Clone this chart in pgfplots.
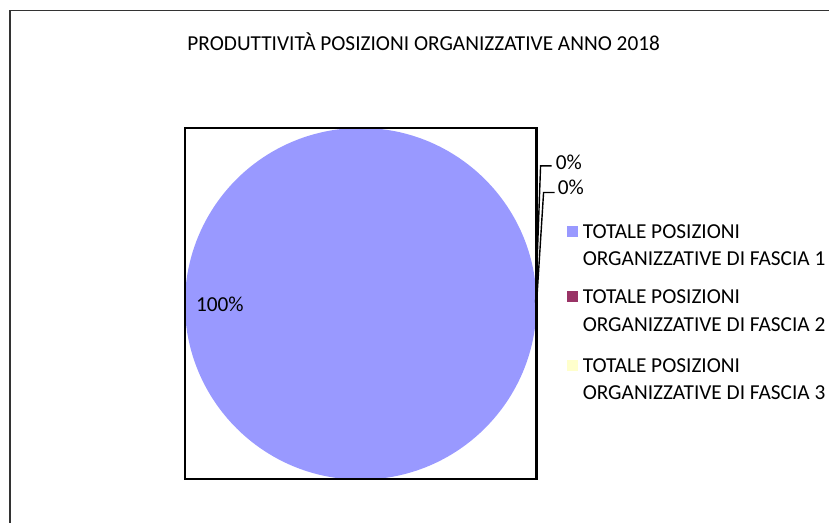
\documentclass[border=0pt]{standalone}
\usepackage{fontspec}
\setmainfont{Carlito}
\usepackage{pgfplots}
\pgfplotsset{compat=1.18}
\usepackage{pgfplotstable}
\definecolor{sA}{HTML}{9999FF}
\definecolor{sB}{HTML}{993366}
\definecolor{sC}{HTML}{FFFFCC}

% slice values (percent)
\pgfplotstableread{
idx value
1 100
2 0
3 0
}\piedata

\begin{document}
\begin{tikzpicture}[font=\fontsize{21.4}{26}\selectfont]
\pgfplotstablegetelem{0}{value}\of\piedata \let\vA\pgfplotsretval
\pgfplotstablegetelem{1}{value}\of\piedata \let\vB\pgfplotsretval
\pgfplotstablegetelem{2}{value}\of\piedata \let\vC\pgfplotsretval
\pgfmathsetmacro{\tot}{\vA+\vB+\vC}
\pgfmathsetmacro{\aA}{90}
\pgfmathsetmacro{\aB}{90-3.6*(\vA/\tot)*100}
\pgfmathsetmacro{\aC}{\aB-3.6*(\vB/\tot)*100}
\pgfmathsetmacro{\aD}{\aC-3.6*(\vC/\tot)*100}
\begin{axis}[
  width=830bp, height=523bp, scale only axis,
  xmin=0, xmax=830, ymin=0, ymax=523,
  hide axis, clip=false,
]
\path (axis cs:0,0) rectangle (axis cs:830,523);
% outer frame
\draw[line width=1.3bp, black!80] (axis cs:10,0) -- (axis cs:10,512.5) -- (axis cs:830,512.5);
% title
\node[anchor=base, inner sep=0] at (axis cs:424,472.3) {PRODUTTIVITÀ POSIZIONI ORGANIZZATIVE ANNO 2018};
% pie slices
\ifdim\vA pt>0pt
\fill[sA] (axis cs:361,219) -- ++(\aA:176bp) arc[start angle=\aA, end angle=\aB, radius=176bp] -- cycle;
\fi
\ifdim\vB pt>0pt
\fill[sB] (axis cs:361,219) -- ++(\aB:176bp) arc[start angle=\aB, end angle=\aC, radius=176bp] -- cycle;
\fi
\ifdim\vC pt>0pt
\fill[sC] (axis cs:361,219) -- ++(\aC:176bp) arc[start angle=\aC, end angle=\aD, radius=176bp] -- cycle;
\fi
% plot area box
\draw[line width=2.2bp, black] (axis cs:185,44) rectangle (axis cs:537,395);
% data labels
\node[anchor=base west, inner sep=0] at (axis cs:196,211.2) {100\%};
\draw[line width=1.4bp] (axis cs:552,357) -- (axis cs:541,357) -- (axis cs:536,220);
\node[anchor=base west, inner sep=0] at (axis cs:556,353.5) {0\%};
\draw[line width=1.4bp] (axis cs:555,330.3) -- (axis cs:544,330.3) -- (axis cs:537,220);
\node[anchor=base west, inner sep=0] at (axis cs:558,328.2) {0\%};
% legend
\fill[sA] (axis cs:567.5,285.5) rectangle (axis cs:578.5,296.5);
\node[anchor=base west, inner sep=0] at (axis cs:583,284.2) {TOTALE POSIZIONI};
\node[anchor=base west, inner sep=0] at (axis cs:583,257.2) {ORGANIZZATIVE DI FASCIA 1};
\fill[sB] (axis cs:567.5,220.5) rectangle (axis cs:578.5,231.5);
\node[anchor=base west, inner sep=0] at (axis cs:583,219.2) {TOTALE POSIZIONI};
\node[anchor=base west, inner sep=0] at (axis cs:583,191.2) {ORGANIZZATIVE DI FASCIA 2};
\fill[sC] (axis cs:567.5,151.5) rectangle (axis cs:578.5,162.5);
\node[anchor=base west, inner sep=0] at (axis cs:583,150.2) {TOTALE POSIZIONI};
\node[anchor=base west, inner sep=0] at (axis cs:583,123.2) {ORGANIZZATIVE DI FASCIA 3};
\end{axis}
\end{tikzpicture}
\end{document}
